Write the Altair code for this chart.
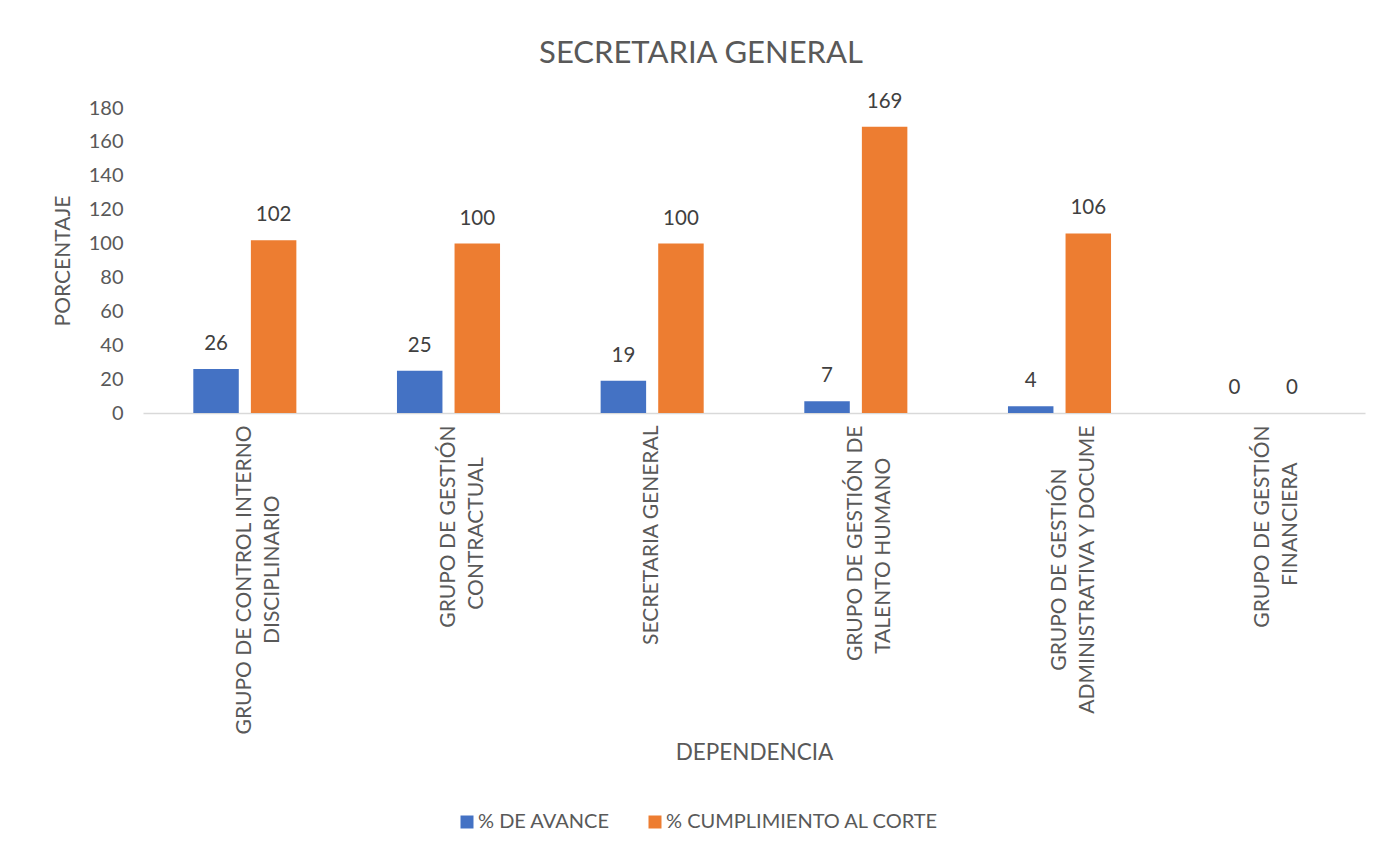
import altair as alt
import pandas as pd

categories = [
    "GRUPO DE CONTROL INTERNO\nDISCIPLINARIO",
    "GRUPO DE GESTIÓN\nCONTRACTUAL",
    "SECRETARIA GENERAL",
    "GRUPO DE GESTIÓN DE\nTALENTO HUMANO",
    "GRUPO DE GESTIÓN\nADMINISTRATIVA Y DOCUME",
    "GRUPO DE GESTIÓN\nFINANCIERA",
]
series = ["% DE AVANCE", "% CUMPLIMIENTO AL CORTE"]
avance = [26, 25, 19, 7, 4, 0]
cumplimiento = [102, 100, 100, 169, 106, 0]
colors = ["#4472C4", "#ED7D31"]
y_ticks = [0, 20, 40, 60, 80, 100, 120, 140, 160, 180]

rows = []
for c, a, b in zip(categories, avance, cumplimiento):
    rows.append({"cat": c, "serie": series[0], "valor": a})
    rows.append({"cat": c, "serie": series[1], "valor": b})
df = pd.DataFrame(rows)

FONT = "Lato"
GRAY = "#595959"

# split the two-line labels and centre the shorter line on the longer one
# (non-breaking spaces, protected from trimming by a zero-width space)
L0 = "split(datum.label, '\\n')[0]"
L1 = "split(datum.label, '\\n')[1]"
NB = "'\u00a0'"
ZW = "'\u200b'"
label_expr = (
    "indexof(datum.label, '\\n') < 0 ? datum.label : ["
    f"pad({L0}, length({L0}) + round(max(0, length({L1}) - length({L0})) * 1.15), {NB}) + {ZW}, "
    f"pad({L1}, length({L1}) + round(max(0, length({L0}) - length({L1})) * 1.15), {NB}) + {ZW}"
    "]"
)

base = alt.Chart(df).encode(
    x=alt.X(
        "cat:N",
        sort=categories,
        title="DEPENDENCIA",
        scale=alt.Scale(paddingInner=0.494, paddingOuter=0.247),
        axis=alt.Axis(
            labelAngle=-90,
            labelExpr=label_expr,
            labelLimit=600,
            labelFont=FONT,
            labelFontSize=21,
            labelColor=GRAY,
            labelLineHeight=28,
            labelPadding=12,
            ticks=False,
            domainColor="#D9D9D9",
            domainWidth=1.5,
            titleFont=FONT,
            titleFontSize=22.5,
            titleFontWeight="normal",
            titleColor=GRAY,
            titlePadding=128,
        ),
    ),
    xOffset=alt.XOffset(
        "serie:N", sort=series, scale=alt.Scale(paddingInner=0.21, paddingOuter=0)
    ),
    y=alt.Y(
        "valor:Q",
        title="PORCENTAJE",
        scale=alt.Scale(domain=[0, 180], nice=False),
        axis=alt.Axis(
            values=y_ticks,
            domain=False,
            ticks=False,
            grid=False,
            labelFont=FONT,
            labelFontSize=20,
            labelColor=GRAY,
            labelPadding=20,
            titleFont=FONT,
            titleFontSize=21,
            titleFontWeight="normal",
            titleColor=GRAY,
            titlePadding=15,
        ),
    ),
)

bars = base.mark_bar().encode(
    color=alt.Color(
        "serie:N",
        sort=series,
        scale=alt.Scale(domain=series, range=colors),
        legend=alt.Legend(
            title=None,
            orient="none",
            direction="horizontal",
            legendX=314,
            legendY=704,
            symbolType="square",
            symbolSize=169,
            symbolStrokeWidth=0,
            labelFont=FONT,
            labelFontSize=20,
            labelColor=GRAY,
            labelLimit=600,
            labelOffset=1,
            columnPadding=35,
        ),
    )
)

labels = base.mark_text(
    baseline="middle", dy=-25, font=FONT, fontSize=20.5, color="#404040"
).encode(text="valor:Q")

chart = (
    alt.layer(bars, labels)
    .properties(
        width=1222,
        height=305,
        padding={"left": 135, "top": 100, "right": 10, "bottom": 430},
        autosize=alt.AutoSizeParams(type="none"),
        title=alt.TitleParams(
            "SECRETARIA GENERAL",
            font=FONT,
            fontSize=31,
            fontWeight="normal",
            color=GRAY,
            anchor="middle",
            dx=-53,
            offset=22,
        ),
    )
    .configure(background="white")
    .configure_view(stroke="transparent", strokeWidth=0)
)

chart.save("out.html", embed_options={"renderer": "svg", "actions": False})
